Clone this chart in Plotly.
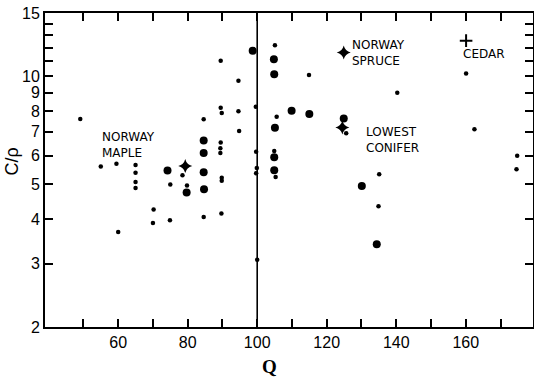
import plotly.graph_objects as go

# ---- data ----
small_q = [49.1, 55.0, 59.5, 65.0, 65.0, 65.0, 65.0, 60.0, 70.2, 70.0,
           75.0, 74.9, 78.5, 79.8, 84.6, 84.6, 89.5, 89.5, 89.8, 89.5,
           89.4, 89.4, 89.8, 89.8, 89.7, 94.6, 94.6, 94.8, 99.6, 99.7,
           99.9, 99.7, 100.0, 105.1, 114.9, 105.6, 125.6, 140.3, 104.9, 105.3,
           135.1, 134.9, 160.1, 162.5, 174.8, 174.6]
small_c = [7.6, 5.6, 5.7, 5.66, 5.38, 5.07, 4.88, 3.68, 4.25, 3.90,
           4.99, 3.97, 5.30, 4.96, 7.59, 4.05, 11.04, 8.17, 7.9, 6.53,
           6.30, 6.11, 5.21, 5.11, 4.14, 9.71, 7.99, 7.04, 8.22, 6.16,
           5.55, 5.36, 3.08, 12.2, 10.07, 7.71, 6.93, 8.99, 6.19, 5.24,
           5.33, 4.34, 10.18, 7.11, 6.0, 5.5]

large_q = [74.2, 84.6, 84.6, 84.6, 84.7, 79.7, 98.7, 104.8, 104.9, 109.9,
           115.0, 105.1, 104.9, 104.9, 124.9, 130.1, 134.4]
large_c = [5.46, 6.62, 6.11, 5.40, 4.84, 4.74, 11.77, 11.14, 10.12, 8.01,
           7.84, 7.18, 5.94, 5.47, 7.62, 4.94, 3.40]

star_q = [79.3, 124.9, 124.5]
star_c = [5.62, 11.65, 7.2]

cross_q = [160.1]
cross_c = [12.56]

x_ticks = list(range(50, 171, 10))
x_labels = [str(v) if v % 20 == 0 else "" for v in x_ticks]
y_ticks = list(range(2, 16))
y_labels = [str(v) if (v <= 10 or v == 15) else "" for v in y_ticks]

labels = [
    ("NORWAY<br>MAPLE", 0.1125, 0.581),
    ("NORWAY<br>SPRUCE", 0.6258, 0.873),
    ("LOWEST<br>CONIFER", 0.6544, 0.597),
    ("CEDAR", 0.852, 0.870),
]

fig = go.Figure()
fig.add_trace(go.Scatter(x=small_q, y=small_c, mode="markers",
                         marker=dict(size=4.5, color="black"), showlegend=False))
fig.add_trace(go.Scatter(x=large_q, y=large_c, mode="markers",
                         marker=dict(size=8, color="black"), showlegend=False))
fig.add_trace(go.Scatter(x=star_q, y=star_c, mode="markers",
                         marker=dict(size=10, color="black", symbol="star-diamond"),
                         showlegend=False))
fig.add_trace(go.Scatter(x=cross_q, y=cross_c, mode="markers",
                         marker=dict(size=9, color="black", symbol="cross-thin",
                                     line=dict(width=2, color="black")),
                         showlegend=False))

fig.add_shape(type="line", x0=100, x1=100, xref="x", y0=0, y1=1, yref="paper",
              line=dict(color="black", width=1.6))

for txt, px, py in labels:
    fig.add_annotation(text=txt, x=px, y=py, xref="paper", yref="paper",
                       xanchor="left", yanchor="middle", align="left",
                       showarrow=False,
                       font=dict(family="DejaVu Sans", size=12, color="black"))

fig.add_annotation(text="<b>Q</b>", x=0.46, y=-0.125, xref="paper", yref="paper",
                   xanchor="center", yanchor="middle", showarrow=False,
                   font=dict(family="Liberation Serif", size=19, color="black"))
fig.add_annotation(text="C/ρ", x=-0.0695, y=0.527, xref="paper", yref="paper",
                   xanchor="center", yanchor="middle", showarrow=False, textangle=-90,
                   font=dict(family="Liberation Sans", size=18, color="black"))

fig.update_xaxes(range=[38.95, 179.35], tickvals=x_ticks, ticktext=x_labels,
                 ticks="inside", ticklen=8, tickwidth=1.5, tickcolor="black",
                 showline=True, linecolor="black", linewidth=1.6, mirror="ticks",
                 showgrid=False, zeroline=False, automargin=False,
                 tickfont=dict(family="Liberation Sans", size=16, color="black"))
fig.update_yaxes(type="log", range=[0.30103, 1.176091], tickvals=y_ticks, ticktext=y_labels,
                 ticks="inside", ticklen=8, tickwidth=1.5, tickcolor="black",
                 showline=True, linecolor="black", linewidth=1.8, mirror="ticks",
                 showgrid=False, zeroline=False, automargin=False,
                 tickfont=dict(family="Liberation Sans", size=16, color="black"))

fig.update_layout(width=534, height=377, margin=dict(l=45, r=1, t=13, b=50),
                  plot_bgcolor="white", paper_bgcolor="white")

fig.write_html("out.html", config={"displayModeBar": False},
               post_script="document.body.style.margin='0';document.body.style.overflow='hidden';")
